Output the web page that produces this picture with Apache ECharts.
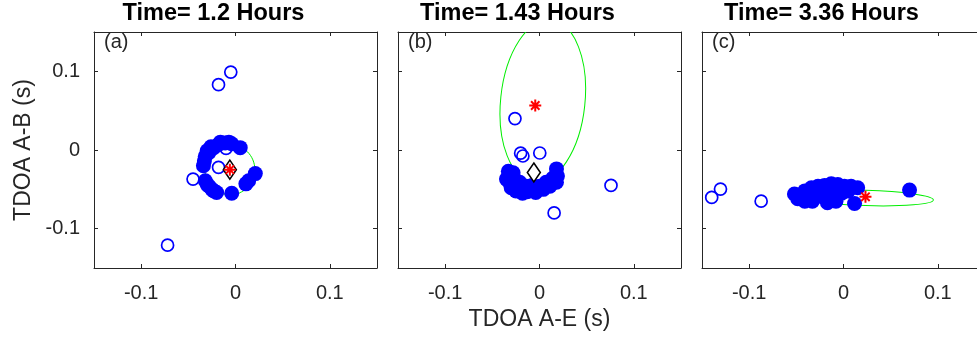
<!DOCTYPE html>
<html>
<head>
<meta charset="utf-8">
<script src="https://cdn.jsdelivr.net/npm/echarts@6/dist/echarts.min.js"></script>
<style>
  html, body { margin: 0; padding: 0; background: #fff; }
  #chart { width: 977px; height: 341px; }
</style>
</head>
<body>
<div id="chart"></div>
<script>
// ---- Data -------------------------------------------------------------
const panelTitles = ['Time= 1.2 Hours', 'Time= 1.43 Hours', 'Time= 3.36 Hours'];
const panelLetters = ['(a)', '(b)', '(c)'];
const tickValues = [-0.1, 0, 0.1];

// (a) t = 1.2 h
const aOutliers = [[-0.005, 0.099], [-0.018, 0.083], [-0.045, -0.037], [-0.018, -0.022], [-0.010, 0.002], [-0.072, -0.121]];
const aInliers = [
  [-0.028, -0.003], [-0.023, 0.003], [-0.018, 0.007], [-0.011, 0.009], [-0.004, 0.008], [0.005, 0.003],
  [-0.032, -0.008], [-0.034, -0.020], [-0.032, -0.039], [-0.028, -0.046], [-0.023, -0.052], [-0.020, -0.054],
  [-0.004, -0.055], [0.011, -0.043], [0.014, -0.039], [0.021, -0.030], [-0.026, 0.004], [-0.030, -0.001],
  [-0.016, 0.010], [-0.007, 0.010], [-0.033, -0.014], [-0.030, -0.044], [-0.025, -0.050]
];
const aEstimate = [[-0.006, -0.025]];
const aTrue = [[-0.006, -0.025]];
const aEllipse = [[-0.006, -0.025, 0.0265, 0.032, 0]]; // cx, cy, rx, ry, tilt (deg)

// (b) t = 1.43 h
const bOutliers = [[-0.026, 0.040], [-0.020, -0.004], [-0.0176, -0.0076], [0.0003, -0.0038], [0.0758, -0.045], [0.0155, -0.080]];
const bInliers = [
  [-0.033, -0.027], [-0.032, -0.033], [-0.035, -0.037], [-0.032, -0.041], [-0.030, -0.048], [-0.025, -0.052],
  [-0.018, -0.055], [-0.011, -0.050], [-0.004, -0.054], [0.004, -0.050], [0.011, -0.046], [0.018, -0.041],
  [0.019, -0.033], [0.018, -0.024], [-0.028, -0.029], [-0.021, -0.041], [0.007, -0.041], [-0.027, -0.036],
  [-0.022, -0.048], [-0.014, -0.046], [-0.008, -0.045], [0.000, -0.046], [-0.013, -0.053], [0.014, -0.036]
];
const bEstimate = [[-0.006, -0.0286]];
const bTrue = [[-0.0045, 0.0566]];
const bEllipse = [[0.0035, 0.062, 0.0447, 0.104, -6]];

// (c) t = 3.36 h
const cOutliers = [[-0.1397, -0.0603], [-0.1304, -0.0497], [-0.0873, -0.065]];
const cInliers = [
  [-0.045, -0.058], [-0.041, -0.052], [-0.034, -0.048], [-0.027, -0.046], [-0.020, -0.045], [-0.013, -0.043],
  [-0.006, -0.044], [0.001, -0.046], [0.008, -0.046], [0.015, -0.048], [-0.0485, -0.062], [-0.041, -0.065],
  [-0.033, -0.065], [-0.017, -0.067], [-0.008, -0.065], [-0.038, -0.056], [-0.024, -0.054], [-0.0095, -0.054],
  [0.005, -0.052], [-0.052, -0.056], [0.070, -0.051], [0.0117, -0.068], [-0.030, -0.060], [-0.020, -0.061],
  [-0.012, -0.059], [-0.002, -0.055]
];
const cTrue = [[0.0233, -0.0595]];
const cEllipse = [[0.0233, -0.061, 0.072, 0.0097, -1.7]];

// ---- Layout -----------------------------------------------------------
const FONT = '"Liberation Sans", Arial, Helvetica, sans-serif';
const AXIS_COLOR = '#262626';
const grids = [
  { left: 94, top: 32, width: 283, height: 236, outerBoundsMode: 'none' },
  { left: 398, top: 32, width: 283, height: 236, outerBoundsMode: 'none' },
  { left: 702, top: 32, width: 283, height: 236, outerBoundsMode: 'none' }
];

function xAxis(gi, position, labels, name) {
  return {
    type: 'value', gridIndex: gi, position: position, min: -0.15, max: 0.15,
    axisLine: { show: true, onZero: false, lineStyle: { color: AXIS_COLOR, width: 1 } },
    axisTick: { show: true, inside: true, length: 4, customValues: tickValues, lineStyle: { color: AXIS_COLOR } },
    axisLabel: { show: labels, customValues: tickValues, margin: 15, fontSize: 20, color: AXIS_COLOR, fontFamily: FONT },
    splitLine: { show: false },
    name: name || '', nameLocation: 'middle', nameGap: 40,
    nameTextStyle: { fontSize: 23, color: AXIS_COLOR, fontFamily: FONT }
  };
}
function yAxis(gi, position, labels, name) {
  return {
    type: 'value', gridIndex: gi, position: position, min: -0.15, max: 0.15,
    axisLine: { show: true, onZero: false, lineStyle: { color: AXIS_COLOR, width: 1 } },
    axisTick: { show: true, inside: true, length: 4, customValues: tickValues, lineStyle: { color: AXIS_COLOR } },
    axisLabel: { show: labels, customValues: tickValues, margin: 14, fontSize: 20, color: AXIS_COLOR, fontFamily: FONT },
    splitLine: { show: false },
    name: name || '', nameLocation: 'middle', nameGap: 59, nameRotate: 90,
    nameTextStyle: { fontSize: 23, color: AXIS_COLOR, fontFamily: FONT }
  };
}

const xAxes = [], yAxes = [];
for (let i = 0; i < 3; i++) {
  xAxes.push(xAxis(i, 'bottom', true, i === 1 ? 'TDOA A-E (s)' : ''));
  xAxes.push(xAxis(i, 'top', false));
  yAxes.push(yAxis(i, 'left', i === 0, i === 0 ? 'TDOA A-B (s)' : ''));
  yAxes.push(yAxis(i, 'right', false));
}

// confidence ellipse drawn through the axis scales
function renderEllipse(params, api) {
  const c = api.coord([api.value(0), api.value(1)]);
  const s = api.size([api.value(2), api.value(3)]);
  return {
    type: 'ellipse',
    x: c[0], y: c[1],
    rotation: api.value(4) * Math.PI / 180,
    shape: { cx: 0, cy: 0, rx: s[0], ry: s[1] },
    style: { fill: 'none', stroke: '#00ee00', lineWidth: 1 }
  };
}

const STAR = 'path://M5,0L5,10M0,5L10,5M1.5,1.5L8.5,8.5M1.5,8.5L8.5,1.5';

function panelSeries(gi, ellipse, outliers, inliers, estimate, truth) {
  const ax = { xAxisIndex: gi * 2, yAxisIndex: gi * 2 };
  const list = [
    Object.assign({ type: 'custom', clip: true, silent: true, z: 1, data: ellipse, renderItem: renderEllipse }, ax),
    Object.assign({ type: 'scatter', z: 2, data: outliers, symbol: 'circle', symbolSize: 12,
      itemStyle: { color: 'rgba(0,0,0,0)', borderColor: '#0000ff', borderWidth: 1.7, opacity: 1 } }, ax),
    Object.assign({ type: 'scatter', z: 3, data: inliers, symbol: 'circle', symbolSize: 15,
      itemStyle: { color: '#0000ff', opacity: 1 } }, ax)
  ];
  if (estimate) {
    list.push(Object.assign({ type: 'scatter', z: 4, data: estimate, symbol: 'diamond', symbolSize: [13, 19],
      itemStyle: { color: '#ffffff', borderColor: '#000000', borderWidth: 1.6, opacity: 1 } }, ax));
  }
  list.push(Object.assign({ type: 'scatter', z: 5, data: truth, symbol: STAR, symbolSize: 12,
    itemStyle: { color: '#ff0000', borderColor: '#ff0000', borderWidth: 2, opacity: 1 } }, ax));
  return list;
}

const series = [].concat(
  panelSeries(0, aEllipse, aOutliers, aInliers, aEstimate, aTrue),
  panelSeries(1, bEllipse, bOutliers, bInliers, bEstimate, bTrue),
  panelSeries(2, cEllipse, cOutliers, cInliers, null, cTrue)
).map(s => Object.assign(s, { animation: false, emphasis: { disabled: true } }));

const graphics = [];
grids.forEach((g, i) => {
  graphics.push({
    type: 'text', x: g.left + g.width / 2 - 22, y: 14,
    style: { text: panelTitles[i], font: 'bold 23.5px ' + FONT, fill: '#000', align: 'center', verticalAlign: 'middle' }
  });
  graphics.push({
    type: 'text', x: g.left + 10, y: 42,
    style: { text: panelLetters[i], font: '20px ' + FONT, fill: AXIS_COLOR, align: 'left', verticalAlign: 'middle' }
  });
});

const chart = echarts.init(document.getElementById('chart'), null, { renderer: 'canvas' });
chart.setOption({
  backgroundColor: '#ffffff',
  animation: false,
  grid: grids,
  xAxis: xAxes,
  yAxis: yAxes,
  series: series,
  graphic: graphics
});
</script>
</body>
</html>
